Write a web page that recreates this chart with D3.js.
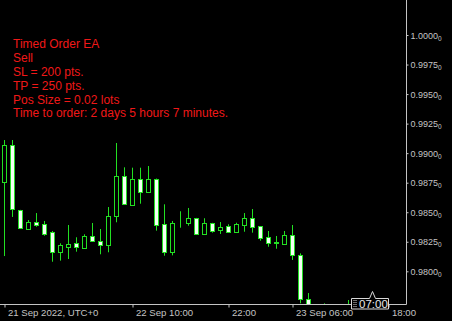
<!DOCTYPE html>
<html>
<head>
<meta charset="utf-8">
<script src="https://cdn.jsdelivr.net/npm/d3@7"></script>
<style>
  body { margin: 0; background: #000; }
  svg { display: block; }
</style>
</head>
<body>
<div id="chart"></div>
<script>
// hourly bars, first one is 21 Sep 2022 18:00 UTC
var opens  = [0.98758,0.99069,0.98516,0.98361,0.98415,0.98398,0.98330,0.98166,0.98208,0.98237,0.98200,0.98296,0.98254,0.98220,0.98466,0.98804,0.98561,0.98779,0.98674,0.98779,0.98398,0.98161,0.98415,0.98406,0.98449,0.98318,0.98406,0.98352,0.98383,0.98335,0.98394,0.98451,0.98381,0.98290,0.98244,0.98235,0.98306,0.98135,0.97763,0.97690,0.97680,0.97700,0.97650,0.97690];
var highs  = [0.99111,0.99111,0.98520,0.98434,0.98493,0.98426,0.98341,0.98237,0.98392,0.98288,0.98313,0.98409,0.98358,0.98544,0.99086,0.98880,0.98877,0.98877,0.98891,0.98785,0.98567,0.98426,0.98508,0.98536,0.98452,0.98449,0.98410,0.98417,0.98398,0.98411,0.98493,0.98527,0.98383,0.98341,0.98299,0.98341,0.98392,0.98152,0.97816,0.97710,0.97729,0.97712,0.97705,0.97757];
var lows   = [0.98129,0.98460,0.98365,0.98358,0.98377,0.98301,0.98081,0.98090,0.98104,0.98166,0.98191,0.98254,0.98144,0.98161,0.98415,0.98567,0.98555,0.98572,0.98669,0.98344,0.98132,0.98135,0.98369,0.98386,0.98310,0.98307,0.98327,0.98316,0.98327,0.98327,0.98335,0.98327,0.98259,0.98208,0.98191,0.98232,0.98096,0.97729,0.97650,0.97600,0.97620,0.97600,0.97620,0.97650];
var closes = [0.99069,0.98527,0.98369,0.98417,0.98394,0.98318,0.98166,0.98223,0.98228,0.98203,0.98299,0.98254,0.98220,0.98468,0.98804,0.98567,0.98779,0.98674,0.98779,0.98389,0.98161,0.98409,0.98414,0.98449,0.98313,0.98406,0.98344,0.98375,0.98335,0.98398,0.98451,0.98377,0.98284,0.98242,0.98243,0.98306,0.98135,0.97763,0.97690,0.97660,0.97700,0.97650,0.97690,0.97710];

var priceTicks = [1.0000, 0.9975, 0.9950, 0.9925, 0.9900, 0.9875, 0.9850, 0.9825, 0.9800];
var timeTicks = ["2022-09-21T18:00Z", "2022-09-22T10:00Z", "2022-09-22T22:00Z", "2022-09-23T06:00Z", "2022-09-23T18:00Z"];
var timeLabels = ["21 Sep 2022, UTC+0", "22 Sep 10:00", "22:00", "23 Sep 06:00", "18:00"];

var infoLines = ["Timed Order EA", "Sell", "SL = 200 pts.", "TP = 250 pts.", "Pos Size = 0.02 lots", "Time to order: 2 days 5 hours 7 minutes."];
var timerLabel = "07:00";
var timerTime = "2022-09-23T16:00Z";

var W = 452, H = 321;
var plotRight = 406, plotBottom = 304;
var green = "#22e022", axisColor = "#c4c4c4";
var t0 = Date.UTC(2022, 8, 21, 18);
var hour = 3600e3;

var bars = opens.map(function(o, i) {
  return { t: new Date(t0 + i * hour), o: o, h: highs[i], l: lows[i], c: closes[i] };
});

var x = d3.scaleUtc().domain([new Date(t0), new Date(t0 + 50 * hour)]).range([4.5, 404.5]);
var y = d3.scaleLinear().domain([0.98, 1.0]).range([271.3, 35]);

var svg = d3.select("#chart").append("svg").attr("width", W).attr("height", H);
svg.append("rect").attr("width", W).attr("height", H).attr("fill", "#000");

svg.append("clipPath").attr("id", "plotclip")
  .append("rect").attr("x", 0).attr("y", 0).attr("width", plotRight).attr("height", plotBottom);

var plot = svg.append("g").attr("clip-path", "url(#plotclip)");
var candle = plot.selectAll("g.c").data(bars).enter().append("g").attr("class", "c");

candle.append("line")
  .attr("x1", function(d) { return Math.round(x(d.t) - 0.5) + 0.5; })
  .attr("x2", function(d) { return Math.round(x(d.t) - 0.5) + 0.5; })
  .attr("y1", function(d) { return y(d.h); })
  .attr("y2", function(d) { return y(d.l); })
  .attr("stroke", green).attr("stroke-width", 1);

candle.append("rect")
  .attr("x", function(d) { return Math.round(x(d.t) - 0.5) - 1.5; })
  .attr("width", 4)
  .attr("y", function(d) { return Math.round(y(Math.max(d.o, d.c))) + 0.5; })
  .attr("height", function(d) { return Math.max(0, Math.round(y(Math.min(d.o, d.c))) - Math.round(y(Math.max(d.o, d.c)))); })
  .attr("fill", function(d) { return d.c >= d.o ? "#000" : "#f4fff4"; })
  .attr("stroke", green).attr("stroke-width", 1);

// axes frame
svg.append("line").attr("x1", 0).attr("x2", plotRight + 0.5).attr("y1", plotBottom + 0.5).attr("y2", plotBottom + 0.5)
  .attr("stroke", axisColor);
svg.append("line").attr("x1", plotRight + 0.5).attr("x2", plotRight + 0.5).attr("y1", 0).attr("y2", plotBottom + 0.5)
  .attr("stroke", axisColor);

var yAxis = svg.append("g").attr("transform", "translate(" + (plotRight + 0.5) + ",0)")
  .call(d3.axisRight(y).tickValues(priceTicks).tickSize(2).tickPadding(2).tickFormat(d3.format(".4f")));
yAxis.select(".domain").remove();
yAxis.selectAll("line").attr("stroke", axisColor);
yAxis.selectAll("text").attr("fill", axisColor).attr("font-family", "Liberation Sans, Arial, sans-serif")
  .attr("font-size", "9px").attr("dy", "0.34em")
  .append("tspan").attr("font-size", "6.5px").attr("dy", "2").text("0");

var xAxis = svg.append("g").attr("transform", "translate(0," + (plotBottom + 0.5) + ")")
  .call(d3.axisBottom(x).tickValues(timeTicks.map(function(s) { return new Date(s); }))
    .tickSize(3).tickSizeOuter(0)
    .tickFormat(function(d, i) { return timeLabels[i]; }));
xAxis.select(".domain").remove();
xAxis.selectAll("line").attr("stroke", axisColor);
xAxis.selectAll("text").attr("fill", axisColor).attr("font-family", "Liberation Sans, Arial, sans-serif")
  .attr("font-size", "9.6px").attr("text-anchor", "start").attr("x", 3).attr("y", 5);

// red info text
svg.append("g").selectAll("text").data(infoLines).enter().append("text")
  .attr("x", 13).attr("y", function(d, i) { return 48.3 + i * 13.8; })
  .attr("fill", "#f01818").attr("font-family", "Liberation Sans, Arial, sans-serif").attr("font-size", "12px")
  .text(function(d) { return d; });

// timer label box
var tx = Math.round(x(new Date(timerTime)));
var bx = tx - 21.5, bw = 37, by = 298.5, bh = 10.5;
var timer = svg.append("g");
timer.append("path")
  .attr("d", "M" + bx + "," + by + "H" + (tx - 3.5) + "L" + (tx - 0.5) + "," + (by - 7) + "L" + (tx + 2.5) + "," + by +
    "H" + (bx + bw) + "V" + (by + bh) + "H" + bx + "Z")
  .attr("fill", "#000").attr("stroke", "#d8d8d8").attr("stroke-width", 1);
[0, 1].forEach(function(cx) {
  [0, 1, 2, 3].forEach(function(ry) {
    timer.append("rect").attr("x", bx + 2 + cx * 2).attr("y", by + 1.5 + ry * 2).attr("width", 1).attr("height", 1).attr("fill", "#d8d8d8");
  });
});
timer.append("text").attr("x", bx + 7.5).attr("y", by + 9.5)
  .attr("fill", "#e8e8e8").attr("font-family", "Liberation Sans, Arial, sans-serif").attr("font-size", "11.5px")
  .text(timerLabel);
</script>
</body>
</html>
